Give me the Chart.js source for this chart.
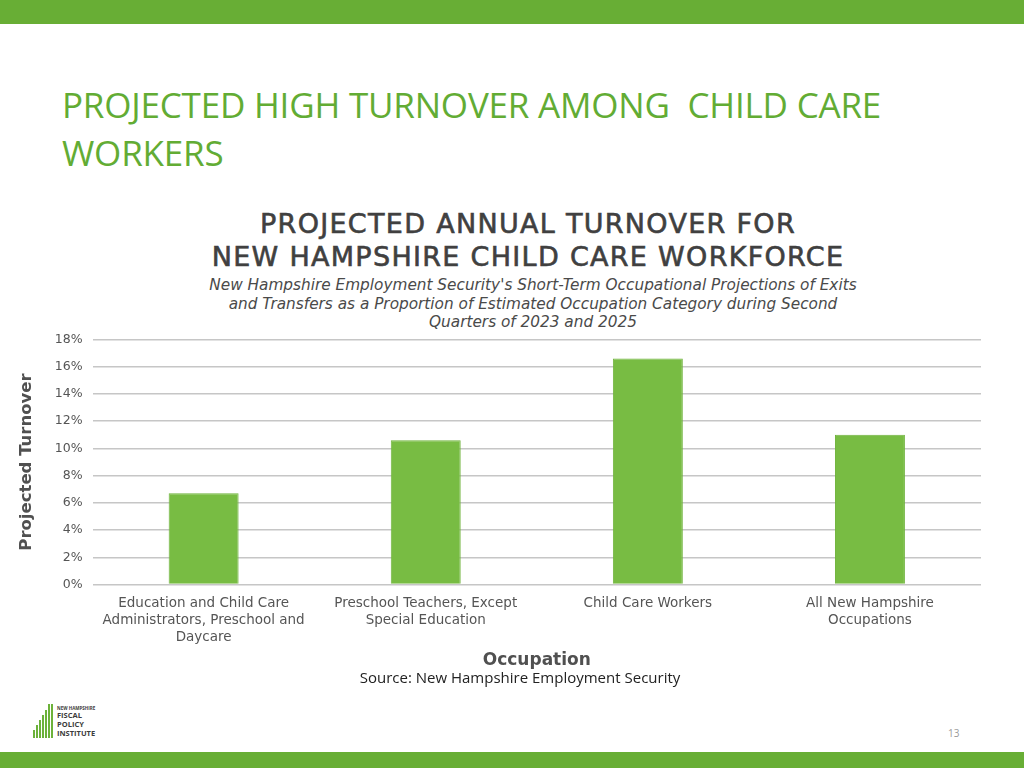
<!DOCTYPE html>
<html>
<head>
<meta charset="utf-8">
<script src="https://cdn.jsdelivr.net/npm/chart.js@4"></script>
<style>
  html,body{margin:0;padding:0;background:#fff;}
  body{width:1024px;height:768px;position:relative;overflow:hidden;font-family:"Open Sans",sans-serif;}
  .band-top{position:absolute;left:0;top:0;width:1024px;height:24px;background:#68ae35;}
  .band-bot{position:absolute;left:0;top:752px;width:1024px;height:16px;background:#68ae35;}
  .slide-title{position:absolute;left:62px;top:81px;font-family:"Open Sans",sans-serif;font-size:35px;line-height:48px;color:#62ac34;letter-spacing:-0.2px;white-space:nowrap;}
  .ctitle{position:absolute;left:0;width:1056px;top:207px;text-align:center;font-family:"DejaVu Sans",sans-serif;font-weight:400;font-size:27px;line-height:33px;letter-spacing:1.3px;color:#404040;-webkit-text-stroke:0.6px #404040;}
  .csub{position:absolute;left:0;width:1066px;top:276px;text-align:center;font-family:"DejaVu Sans",sans-serif;font-style:italic;font-size:15.3px;line-height:18.5px;color:#4a4a4a;}
  .source{position:absolute;left:0;width:1040px;top:667px;text-align:center;font-family:"Open Sans",sans-serif;font-size:15px;color:#222;}
  .pnum{position:absolute;left:948px;top:726px;font-size:10px;color:#9a9a9a;}
  .logo{position:absolute;left:33px;top:704px;width:20px;height:34px;}
  .logo div{position:absolute;bottom:0;width:2px;background:#6cb23a;}
  .logotxt{position:absolute;left:57px;top:705px;color:#3b3b3b;font-family:"Open Sans",sans-serif;font-weight:700;}
  .logotxt .s{font-size:4.5px;line-height:6px;}
  .logotxt .b{font-size:7.5px;line-height:9px;}
  #wrap{position:absolute;left:0;top:322px;width:1024px;height:351px;}
</style>
</head>
<body>
<div class="band-top"></div>
<div class="band-bot"></div>
<div class="slide-title">PROJECTED HIGH TURNOVER AMONG&nbsp; CHILD CARE<br>WORKERS</div>
<div class="ctitle">PROJECTED ANNUAL TURNOVER FOR<br>NEW HAMPSHIRE CHILD CARE WORKFORCE</div>
<div class="csub">New Hampshire Employment Security's Short-Term Occupational Projections of Exits<br>and Transfers as a Proportion of Estimated Occupation Category during Second<br>Quarters of 2023 and 2025</div>
<div id="wrap"><canvas id="c" width="1024" height="351"></canvas></div>
<div class="source">Source: New Hampshire Employment Security</div>
<div class="logo">
  <div style="left:0px;height:8px"></div>
  <div style="left:3px;height:13px"></div>
  <div style="left:6px;height:18px"></div>
  <div style="left:9px;height:23px"></div>
  <div style="left:12px;height:28px"></div>
  <div style="left:15px;height:34px"></div>
  <div style="left:18px;height:34px"></div>
</div>
<div class="logotxt"><div class="s">NEW HAMPSHIRE</div><div class="b">FISCAL</div><div class="b">POLICY</div><div class="b">INSTITUTE</div></div>
<div class="pnum">13</div>
<script>
const categories = [
  ["Education and Child Care","Administrators, Preschool and","Daycare"],
  ["Preschool Teachers, Except","Special Education"],
  ["Child Care Workers"],
  ["All New Hampshire","Occupations"]
];
const turnover = [0.067, 0.106, 0.166, 0.110];
const yTicks = [0,0.02,0.04,0.06,0.08,0.10,0.12,0.14,0.16,0.18];
const yTitle = "Projected Turnover";
const xTitle = "Occupation";

new Chart(document.getElementById('c'), {
  type: 'bar',
  data: {
    labels: categories,
    datasets: [{
      data: turnover,
      backgroundColor: '#78bc43',
      borderColor: '#6fb33c',
      borderWidth: 1,
      barPercentage: 0.63,
      categoryPercentage: 0.5
    }]
  },
  options: {
    responsive: false,
    devicePixelRatio: 1,
    animation: false,
    layout: { padding: { left: 17, right: 43, top: 8, bottom: 2 } },
    plugins: { legend: { display: false }, tooltip: { enabled: false } },
    scales: {
      x: {
        grid: { display: false, drawTicks: false },
        border: { display: false },
        ticks: { color: '#555', font: { family: 'DejaVu Sans', size: 13.5, lineHeight: 1.26 }, padding: 10, maxRotation: 0, autoSkip: false },
        title: { display: true, text: xTitle, color: '#505050', font: { family: 'DejaVu Sans', size: 17, weight: 'bold', lineHeight: 1.2 }, padding: { top: -5, bottom: 0 } }
      },
      y: {
        min: 0, max: 0.18,
        afterBuildTicks: (axis) => { axis.ticks = yTicks.map(v => ({ value: v })); },
        grid: { color: '#c6c6c6', lineWidth: 1.5, drawTicks: false },
        border: { display: false },
        ticks: { color: '#555', font: { family: 'DejaVu Sans', size: 12.5 }, padding: 10,
          callback: (v) => Math.round(v * 100) + '%' },
        title: { display: true, text: yTitle, color: '#505050', font: { family: 'DejaVu Sans', size: 16.5, weight: 'bold' }, padding: { top: 0, bottom: 8 } }
      }
    }
  }
});
</script>
</body>
</html>
